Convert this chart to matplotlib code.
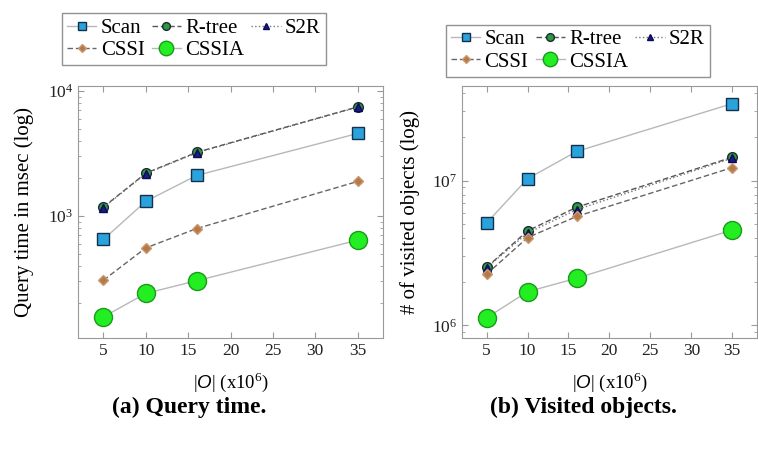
import numpy as np
import matplotlib
matplotlib.use("Agg")
import matplotlib.pyplot as plt
from matplotlib.ticker import LogLocator, NullFormatter

plt.rcParams['font.family'] = ['Liberation Serif', 'DejaVu Serif']
plt.rcParams['mathtext.fontset'] = 'custom'
plt.rcParams['mathtext.rm'] = 'Liberation Serif'
plt.rcParams['mathtext.it'] = 'Liberation Sans:italic'

# data size (x10^6)
sizes = [5, 10, 16, 35]

# (a) query time in msec
scan_t = [650, 1310, 2110, 4570]
rtree_t = [1180, 2200, 3230, 7460]
s2r_t = [1170, 2180, 3200, 7400]
cssi_t = [307, 556, 794, 1890]
cssia_t = [156, 241, 304, 641]

# (b) visited objects
scan_v = [5.1e6, 1.03e7, 1.59e7, 3.4e7]
rtree_v = [2.52e6, 4.5e6, 6.55e6, 1.45e7]
s2r_v = [2.5e6, 4.35e6, 6.3e6, 1.43e7]
cssi_v = [2.26e6, 4.04e6, 5.66e6, 1.23e7]
cssia_v = [1.13e6, 1.71e6, 2.12e6, 4.56e6]

names = ["Scan", "R-tree", "S2R", "CSSI", "CSSIA"]

styles = {
    "Scan":   dict(marker='s', ms=8, mfc='#2aa3dc', mec='#15304d', color='#b8b8b8', ls='-', lw=1.0),
    "R-tree": dict(marker='o', ms=7, mfc='#2e9a3a', mec='#1a2a3a', color='#555555', ls=(0, (4, 2)), lw=1.0),
    "S2R":    dict(marker='^', ms=6, mfc='#1a1a8a', mec='#0a0a50', color='#777777', ls=':', lw=1.0),
    "CSSI":   dict(marker='D', ms=5, mfc='#b5794a', mec='#c99a70', color='#666666', ls=(0, (4, 2)), lw=1.0),
    "CSSIA":  dict(marker='o', ms=13, mfc='#22ee22', mec='#1a9a1a', color='#b8b8b8', ls='-', lw=1.0),
}

fig = plt.figure(figsize=(7.58, 4.51), dpi=100)
ax1 = fig.add_axes([0.1029, 0.2506, 0.4024, 0.5588])
ax2 = fig.add_axes([0.6095, 0.2506, 0.389, 0.5588])


def draw(ax, series, ylim, ylabel, legend_xy):
    lines = {}
    for name, vals in zip(names, series):
        lines[name], = ax.plot(sizes, vals, label=name, **styles[name])
    ax.set_yscale('log')
    ax.set_ylim(*ylim)
    ax.set_xlim(2, 38)
    ax.set_xticks([5, 10, 15, 20, 25, 30, 35])
    ax.yaxis.set_minor_locator(LogLocator(base=10, subs=np.arange(2, 10)))
    ax.yaxis.set_minor_formatter(NullFormatter())
    for s in ax.spines.values():
        s.set_color('#999999')
    ax.tick_params(axis='both', which='both', direction='in', colors='#999999',
                   labelcolor='#222222', labelsize=12.5, top=True, right=True)
    ax.tick_params(which='major', length=4)
    ax.tick_params(which='minor', length=2.5)
    ax.set_xlabel(r'$|O|$ (x10$^6$)', fontsize=13.5)
    ax.xaxis.set_label_coords(0.5, -0.13)
    ax.set_ylabel(ylabel, fontsize=15, va='center')
    ax.yaxis.set_label_coords(-0.177, 0.5)
    # legend filled row by row: Scan R-tree S2R / CSSI CSSIA
    order = ["Scan", "CSSI", "R-tree", "CSSIA", "S2R"]
    leg = ax.legend([lines[n] for n in order], order, ncol=3, loc='center',
                    bbox_to_anchor=legend_xy,
                    fontsize=15, frameon=True, fancybox=False, markerscale=0.8,
                    handlelength=1.4, handletextpad=0.2, columnspacing=0.35,
                    labelspacing=0.12, borderpad=0.25, borderaxespad=0)
    leg.get_frame().set_edgecolor('#777777')
    leg.get_frame().set_linewidth(1.0)


draw(ax1, [scan_t, rtree_t, s2r_t, cssi_t, cssia_t], (106, 10960),
     'Query time in msec (log)', (0.38, 1.186))
draw(ax2, [scan_v, rtree_v, s2r_v, cssi_v, cssia_v], (8.2e5, 4.5e7),
     '# of visited objects (log)', (0.393, 1.14))

fig.text(0.25, 1 - 407 / 451, '(a) Query time.', ha='center', va='center',
         fontsize=17, fontweight='bold')
fig.text(0.77, 1 - 407 / 451, '(b) Visited objects.', ha='center', va='center',
         fontsize=17, fontweight='bold')

fig.savefig('out.png', dpi=100)
